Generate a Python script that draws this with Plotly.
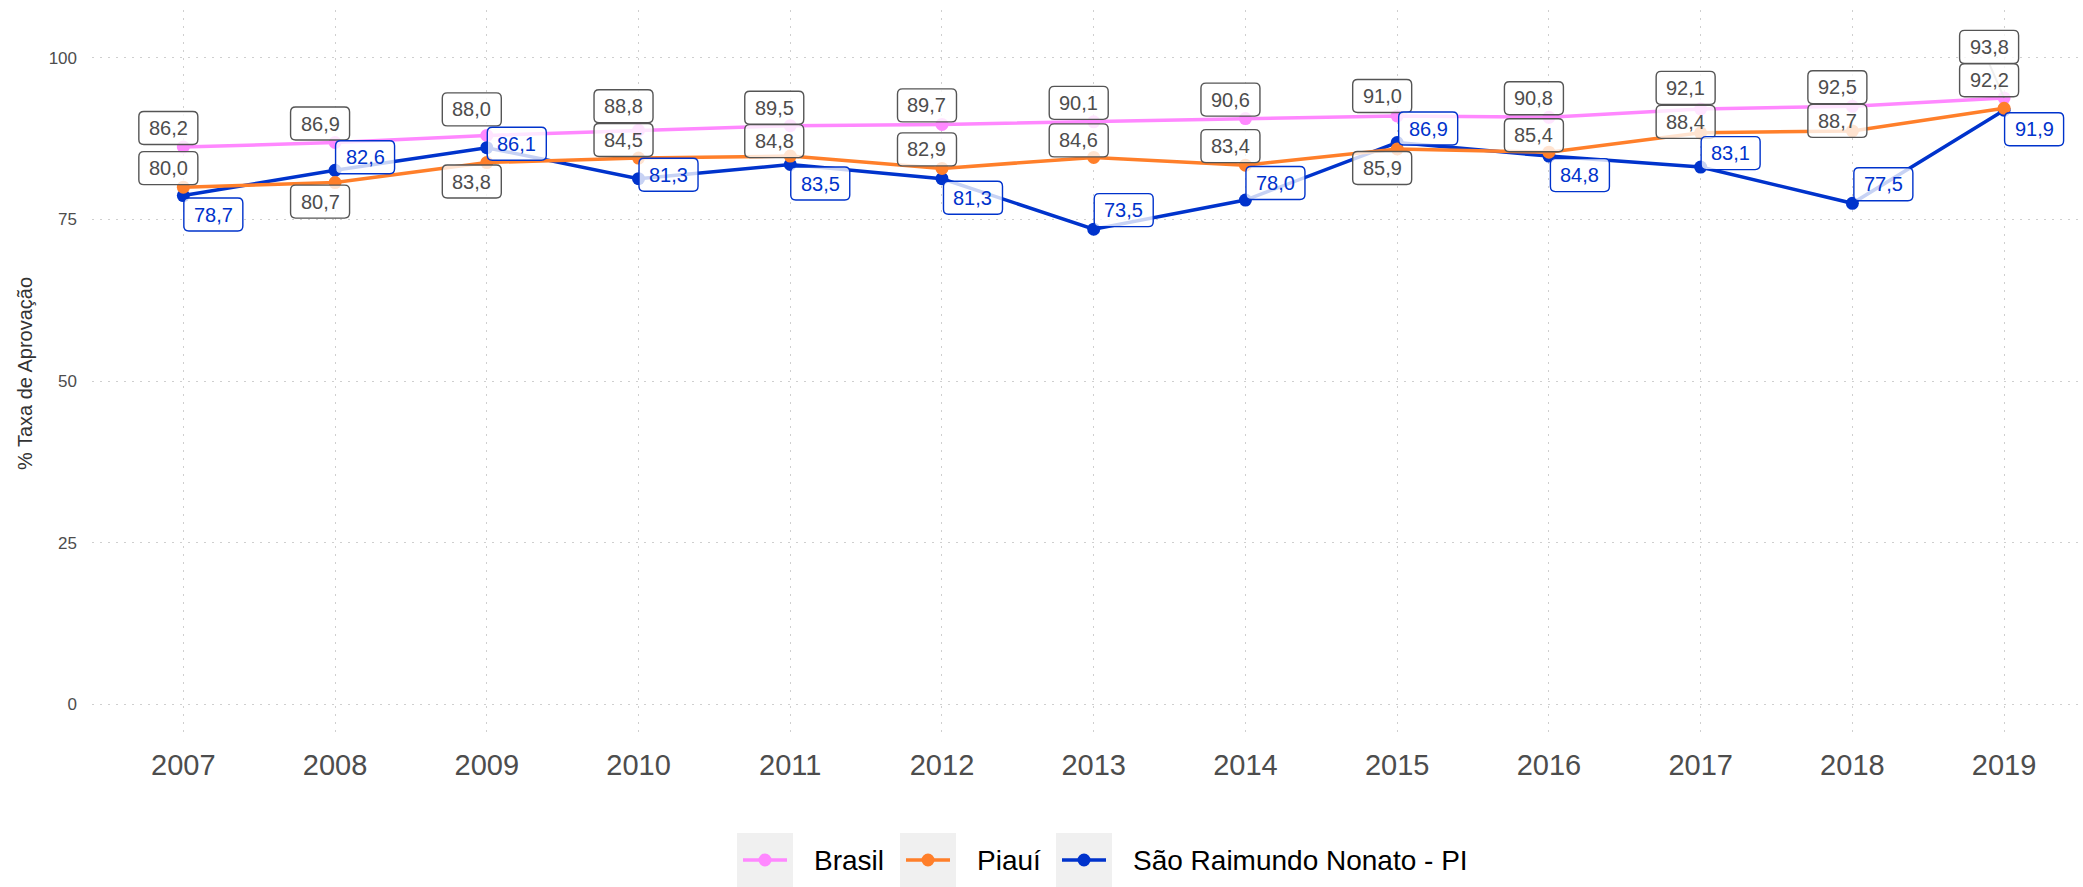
import plotly.graph_objects as go

# Taxa de aprovação (%) por ano
anos = [2007, 2008, 2009, 2010, 2011, 2012, 2013, 2014, 2015, 2016, 2017, 2018, 2019]
brasil = [86.2, 86.9, 88.0, 88.8, 89.5, 89.7, 90.1, 90.6, 91.0, 90.8, 92.1, 92.5, 93.8]
piaui = [80.0, 80.7, 83.8, 84.5, 84.8, 82.9, 84.6, 83.4, 85.9, 85.4, 88.4, 88.7, 92.2]
sao_raimundo = [78.7, 82.6, 86.1, 81.3, 83.5, 81.3, 73.5, 78.0, 86.9, 84.8, 83.1, 77.5, 91.9]

y_ticks = [0, 25, 50, 75, 100]

# label placement (pixel offsets from each point: dx right, dy up)
off_brasil = [(-15, 19), (-15, 19), (-15, 26), (-15, 24), (-16, 18), (-15, 19), (-15, 19),
              (-15, 19), (-15, 20), (-15, 19), (-15, 21), (-15, 19), (-15, 51)]
off_piaui = [(-15, 19), (-15, -19), (-15, -19), (-15, 18), (-16, 15), (-15, 19), (-15, 17),
             (-15, 19), (-15, -19), (-15, 17), (-15, 11), (-15, 10), (-15, 28)]
off_sr = [(30, -19), (30, 13), (30, 4), (30, 4), (30, -19), (31, -19), (30, 19),
          (30, 17), (31, 14), (31, -19), (30, 14), (31, 19), (30, -19)]

C_BRASIL = "#ff88ff"
C_PIAUI = "#ff7f2a"
C_SR = "#0033cc"
GRAY_TXT = "#4d4d4d"
FONT = "Liberation Sans, Arial, sans-serif"

W, H = 2083, 887
M_L, M_R, M_T, M_B = 92, 0, 10, 150
PLOT_W, PLOT_H = W - M_L - M_R, H - M_T - M_B

BOX_W, BOX_H, BOX_R = 59, 33, 5


def px_x(p):
    return (p - M_L) / PLOT_W


def px_y(p):
    return (H - M_B - p) / PLOT_H


fig = go.Figure()

series = [
    ("Brasil", brasil, C_BRASIL),
    ("São Raimundo Nonato - PI", sao_raimundo, C_SR),
    ("Piauí", piaui, C_PIAUI),
]
for name, vals, color in series:
    fig.add_trace(go.Scatter(
        x=anos, y=vals, name=name, mode="lines+markers",
        line=dict(color=color, width=3.5),
        marker=dict(color=color, size=13),
        showlegend=False,
    ))


def fmt(v):
    return f"{v:.1f}".replace(".", ",")


def rounded_box(cx, cy, w, h, r):
    x0, x1 = cx - w / 2, cx + w / 2
    y0, y1 = cy - h / 2, cy + h / 2
    return (f"M {x0 + r} {y0} L {x1 - r} {y0} Q {x1} {y0} {x1} {y0 + r} "
            f"L {x1} {y1 - r} Q {x1} {y1} {x1 - r} {y1} "
            f"L {x0 + r} {y1} Q {x0} {y1} {x0} {y1 - r} "
            f"L {x0} {y0 + r} Q {x0} {y0} {x0 + r} {y0} Z")


shapes = []
annotations = []

# connector for the 2019 Brasil label
dx19, dy19 = off_brasil[-1]
shapes.append(dict(
    type="line", layer="above", xref="x", yref="y",
    xsizemode="pixel", ysizemode="pixel", xanchor=anos[-1], yanchor=brasil[-1],
    x0=0, y0=0, x1=dx19, y1=dy19 - BOX_H / 2,
    line=dict(color="#b0b0b0", width=2),
))

label_sets = [
    (brasil, off_brasil, "#555555", GRAY_TXT),
    (piaui, off_piaui, "#555555", GRAY_TXT),
    (sao_raimundo, off_sr, C_SR, C_SR),
]
for vals, offs, border, txt in label_sets:
    for ano, v, (dx, dy) in zip(anos, vals, offs):
        shapes.append(dict(
            type="path", layer="above", xref="x", yref="y",
            xsizemode="pixel", ysizemode="pixel", xanchor=ano, yanchor=v,
            path=rounded_box(dx, dy, BOX_W, BOX_H, BOX_R),
            fillcolor="rgba(255,255,255,0.78)",
            line=dict(color=border, width=1.4),
        ))
        annotations.append(dict(
            x=ano, y=v, xref="x", yref="y", text=fmt(v), showarrow=False,
            xshift=dx, yshift=dy, font=dict(size=20, color=txt, family=FONT),
        ))

# legend: grey key, line with point, and series name
legend_items = [("Brasil", C_BRASIL, 737), ("Piauí", C_PIAUI, 900),
                ("São Raimundo Nonato - PI", C_SR, 1056)]
KEY = 56
key_top, key_bottom, key_mid = 833, 887, 860
for name, color, kx in legend_items:
    shapes.append(dict(
        type="rect", xref="paper", yref="paper", layer="below",
        x0=px_x(kx), x1=px_x(kx + KEY), y0=px_y(key_bottom), y1=px_y(key_top),
        fillcolor="#f0f0f0", line=dict(width=0),
    ))
    shapes.append(dict(
        type="line", xref="paper", yref="paper", layer="above",
        x0=px_x(kx + 6), x1=px_x(kx + KEY - 6), y0=px_y(key_mid), y1=px_y(key_mid),
        line=dict(color=color, width=3.5),
    ))
    shapes.append(dict(
        type="circle", xref="paper", yref="paper", layer="above",
        xsizemode="pixel", ysizemode="pixel",
        xanchor=px_x(kx + KEY / 2), yanchor=px_y(key_mid),
        x0=-6.5, x1=6.5, y0=-6.5, y1=6.5,
        fillcolor=color, line=dict(width=0),
    ))
    annotations.append(dict(
        x=px_x(kx + KEY + 19), y=px_y(key_mid), xref="paper", yref="paper",
        xanchor="left", yanchor="middle", showarrow=False, text=name,
        font=dict(size=28, color="black", family=FONT),
    ))

grid = dict(showgrid=True, gridcolor="#cfcfcf", gridwidth=1.2, griddash="2px,6px",
            zeroline=False, showline=False, ticks="")

fig.update_layout(
    width=W, height=H,
    margin=dict(l=M_L, r=M_R, t=M_T, b=M_B),
    plot_bgcolor="white", paper_bgcolor="white",
    showlegend=False,
    font=dict(family=FONT, color=GRAY_TXT),
    xaxis=dict(range=[2006.398, 2019.52], tickvals=anos, ticktext=[str(a) for a in anos],
               tickfont=dict(size=29, color=GRAY_TXT), ticklabelstandoff=8, **grid),
    yaxis=dict(range=[-5.06, 107.4], tickvals=y_ticks, tickfont=dict(size=17, color=GRAY_TXT),
               ticklabelstandoff=14,
               title=dict(text="% Taxa de Aprovação", font=dict(size=20, color="#333333"),
                          standoff=10), **grid),
    shapes=shapes, annotations=annotations,
)

fig.write_html("out.html")
